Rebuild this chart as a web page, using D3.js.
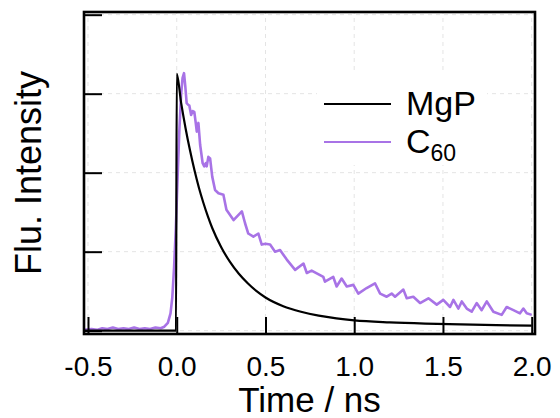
<!DOCTYPE html>
<html>
<head>
<meta charset="utf-8">
<script src="https://cdn.jsdelivr.net/npm/d3@7"></script>
<style>
  body { margin: 0; background: #fff; }
  text { font-family: "Liberation Sans", Arial, sans-serif; fill: #000; }
</style>
</head>
<body>
<script>
let width = 560,
  height = 418

let margin = { left: 84, right: 25, top: 12, bottom: 84 }

// x tick values (ns) and y tick values (arb. units, no labels)
let xTicks = [-0.5, 0.0, 0.5, 1.0, 1.5, 2.0]
let yTicks = [0, 1, 2, 3, 4]

let seriesNames = ['MgP', 'C60']
let seriesColors = ['#000000', '#a873e6']

// MgP decay trace [time ns, intensity]
let mgpTime = [-0.52, -0.004, 0.0, 0.025, 0.05, 0.075, 0.10, 0.125, 0.15, 0.175, 0.20, 0.25, 0.30, 0.35, 0.40, 0.45, 0.50, 0.60, 0.70, 0.80, 0.90, 1.0, 1.2, 1.4, 1.6, 1.8, 2.0]
let mgpValue = [0.0, 0.0, 3.25, 2.88, 2.56, 2.28, 2.03, 1.81, 1.62, 1.45, 1.30, 1.06, 0.87, 0.72, 0.60, 0.50, 0.42, 0.31, 0.24, 0.19, 0.155, 0.13, 0.105, 0.09, 0.08, 0.07, 0.063]

// C60 decay trace [time ns, intensity]
let c60Time = [-0.52, -0.48, -0.45, -0.42, -0.39, -0.36, -0.33, -0.30, -0.27, -0.24, -0.21, -0.18, -0.15, -0.12, -0.09, -0.07, -0.05, -0.035, -0.025, -0.015, -0.005, 0.005, 0.015, 0.025, 0.033, 0.041, 0.048, 0.056, 0.064, 0.071, 0.081, 0.090, 0.099, 0.106, 0.113, 0.122, 0.132, 0.146, 0.155, 0.164, 0.169, 0.178, 0.188, 0.200, 0.216, 0.235, 0.263, 0.28, 0.32, 0.367, 0.385, 0.403, 0.432, 0.46, 0.479, 0.50, 0.526, 0.554, 0.582, 0.62, 0.667, 0.714, 0.733, 0.76, 0.826, 0.835, 0.882, 0.901, 0.929, 0.958, 0.995, 1.023, 1.07, 1.117, 1.146, 1.183, 1.211, 1.23, 1.277, 1.296, 1.333, 1.371, 1.418, 1.465, 1.502, 1.54, 1.559, 1.587, 1.606, 1.634, 1.662, 1.69, 1.718, 1.747, 1.784, 1.831, 1.859, 1.897, 1.934, 1.953, 1.972, 2.0]
let c60Value = [0.01, 0.02, 0.01, 0.03, 0.02, 0.04, 0.02, 0.03, 0.02, 0.04, 0.02, 0.03, 0.02, 0.04, 0.03, 0.05, 0.10, 0.22, 0.42, 0.80, 1.30, 1.95, 2.55, 3.00, 3.20, 3.26, 3.10, 2.88, 2.86, 2.85, 2.73, 2.78, 2.77, 2.65, 2.52, 2.63, 2.35, 2.12, 2.08, 2.12, 2.08, 2.20, 2.18, 1.95, 1.78, 1.74, 1.72, 1.53, 1.40, 1.51, 1.36, 1.23, 1.19, 1.23, 1.09, 1.10, 1.09, 1.00, 1.02, 0.90, 0.77, 0.85, 0.73, 0.76, 0.68, 0.62, 0.68, 0.56, 0.66, 0.56, 0.58, 0.47, 0.54, 0.60, 0.47, 0.43, 0.47, 0.43, 0.52, 0.41, 0.43, 0.35, 0.41, 0.33, 0.39, 0.30, 0.39, 0.28, 0.37, 0.28, 0.24, 0.35, 0.26, 0.37, 0.24, 0.20, 0.30, 0.26, 0.22, 0.28, 0.22, 0.20]

let svg = d3.select('body').append('svg')
  .attr('width', width)
  .attr('height', height)

let x = d3.scaleLinear()
  .domain([-0.5225, 2.0186])
  .range([margin.left, width - margin.right])

let y = d3.scaleLinear()
  .domain([-0.042, 4.034])
  .range([height - margin.bottom, margin.top])

// dashed grid
let grid = svg.append('g').attr('class', 'grid')
grid.selectAll('.gx').data(xTicks).enter().append('line')
  .attr('x1', d => x(d)).attr('x2', d => x(d))
  .attr('y1', y.range()[0]).attr('y2', y.range()[1])
grid.selectAll('.gy').data(yTicks).enter().append('line')
  .attr('y1', d => y(d)).attr('y2', d => y(d))
  .attr('x1', x.range()[0]).attr('x2', x.range()[1])
grid.selectAll('line')
  .attr('stroke', '#e4e4e4')
  .attr('stroke-width', 1)
  .attr('stroke-dasharray', '4,4')

// traces
let line = d3.line()
  .x(d => x(d[0]))
  .y(d => y(d[1]))

let c60Data = c60Time.map((t, i) => [t, c60Value[i]])
let mgpData = mgpTime.map((t, i) => [t, mgpValue[i]])

svg.append('path')
  .datum(c60Data)
  .attr('d', line)
  .attr('fill', 'none')
  .attr('stroke', seriesColors[1])
  .attr('stroke-width', 2.6)
  .attr('stroke-linejoin', 'round')

svg.append('path')
  .datum(mgpData)
  .attr('d', line.curve(d3.curveMonotoneX))
  .attr('fill', 'none')
  .attr('stroke', seriesColors[0])
  .attr('stroke-width', 2.2)

// axes, ticks inward
let xAxis = svg.append('g')
  .attr('transform', `translate(0,${y.range()[0]})`)
  .call(d3.axisBottom(x).tickValues(xTicks).tickSize(-17).tickPadding(22)
    .tickFormat(d3.format('.1f')))
xAxis.select('.domain').remove()
xAxis.selectAll('.tick line').attr('stroke-width', 2)
xAxis.selectAll('.tick text')
  .attr('font-size', 28)
  .attr('font-family', '"Liberation Sans", Arial, sans-serif')
  .text(d => d3.format('.1f')(d).replace('−', '-'))

let yAxis = svg.append('g')
  .attr('transform', `translate(${x.range()[0]},0)`)
  .call(d3.axisLeft(y).tickValues(yTicks).tickSize(-18).tickFormat(''))
yAxis.select('.domain').remove()
yAxis.selectAll('.tick line').attr('stroke-width', 2)

// frame
svg.append('rect')
  .attr('x', x.range()[0])
  .attr('y', y.range()[1])
  .attr('width', x.range()[1] - x.range()[0])
  .attr('height', y.range()[0] - y.range()[1])
  .attr('fill', 'none')
  .attr('stroke', '#000')
  .attr('stroke-width', 2.6)

// axis titles
svg.append('text')
  .attr('x', (x.range()[0] + x.range()[1]) / 2)
  .attr('y', 412)
  .attr('text-anchor', 'middle')
  .attr('font-size', 35)
  .text('Time / ns')

svg.append('text')
  .attr('transform', `translate(41,${(y.range()[0] + y.range()[1]) / 2}) rotate(-90)`)
  .attr('text-anchor', 'middle')
  .attr('font-size', 36)
  .text('Flu. Intensity')

// legend
let legend = svg.append('g').attr('class', 'legend')
legend.append('rect')
  .attr('x', 317).attr('y', 72)
  .attr('width', 170).attr('height', 93)
  .attr('fill', '#fff')

let legendItem = legend.selectAll('.legend-item')
  .data(seriesNames)
  .enter().append('g')
  .attr('class', 'legend-item')
  .attr('transform', (d, i) => `translate(324,${104 + i * 38})`)

legendItem.append('line')
  .attr('x1', 0).attr('x2', 67)
  .attr('stroke', (d, i) => seriesColors[i])
  .attr('stroke-width', 2)

legendItem.each(function(d) {
  let t = d3.select(this).append('text')
    .attr('x', 82)
    .attr('y', 11)
    .attr('font-size', 34)
  if (d === 'C60') {
    t.append('tspan').text('C')
    t.append('tspan').attr('font-size', 23).attr('dy', 8).text('60')
  } else {
    t.text(d)
  }
})
</script>
</body>
</html>
